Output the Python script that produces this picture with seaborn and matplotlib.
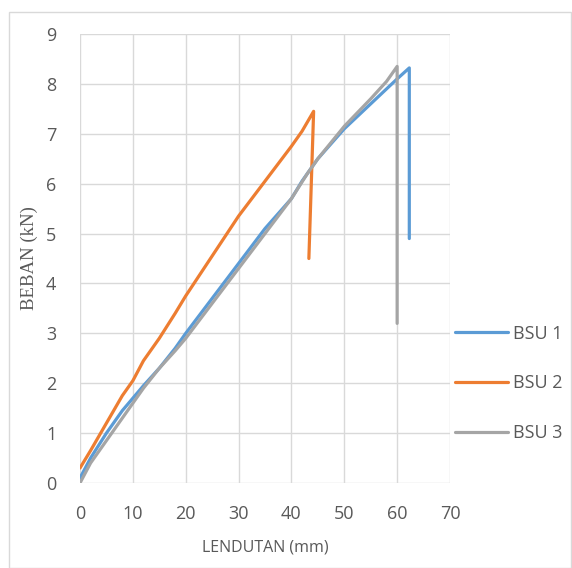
import matplotlib
matplotlib.use("Agg")
import matplotlib.pyplot as plt
import seaborn as sns
import pandas as pd
from matplotlib.patches import Rectangle

bsu1_x = [0, 2, 5, 8, 10, 12, 15, 18, 20, 25, 30, 35, 40, 42, 45, 50, 55, 58, 60, 62.3, 62.3]
bsu1_y = [0.1, 0.5, 1.0, 1.45, 1.7, 1.95, 2.3, 2.7, 3.0, 3.7, 4.4, 5.1, 5.7, 6.05, 6.5, 7.1, 7.6, 7.9, 8.1, 8.32, 4.9]

bsu2_x = [0, 2, 5, 8, 10, 12, 15, 18, 20, 25, 30, 35, 40, 42, 44.2, 43.3]
bsu2_y = [0.3, 0.65, 1.2, 1.75, 2.05, 2.45, 2.9, 3.4, 3.75, 4.55, 5.35, 6.05, 6.75, 7.05, 7.45, 4.5]

bsu3_x = [0, 2, 5, 8, 10, 12, 15, 18, 20, 25, 30, 35, 40, 43, 45, 50, 55, 58, 60, 60]
bsu3_y = [0.0, 0.4, 0.85, 1.3, 1.6, 1.9, 2.3, 2.65, 2.9, 3.6, 4.3, 5.0, 5.7, 6.2, 6.5, 7.15, 7.7, 8.05, 8.35, 3.2]

series = ["BSU 1", "BSU 2", "BSU 3"]
colors = ["#5b9bd5", "#ed7d31", "#a5a5a5"]

rows = []
for name, xs, ys in zip(series, [bsu1_x, bsu2_x, bsu3_x], [bsu1_y, bsu2_y, bsu3_y]):
    for i, (x, y) in enumerate(zip(xs, ys)):
        rows.append({"series": name, "order": i, "x": x, "y": y})
df = pd.DataFrame(rows)

sns.set_style("white")
plt.rcParams["font.family"] = ["Open Sans", "DejaVu Sans"]

fig = plt.figure(figsize=(5.72, 5.68), dpi=100)
ax = fig.add_axes([80/572, 1-483/568, 370/572, 449/568])

sns.lineplot(data=df, x="x", y="y", hue="series", units="series", estimator=None,
             sort=False, palette=colors, linewidth=2.3, ax=ax)

ax.set_xlim(0, 70)
ax.set_ylim(0, 9)
ax.set_xticks(range(0, 71, 10))
ax.set_yticks(range(0, 10))
ax.grid(True, color="#d9d9d9", linewidth=1.0)
for s in ax.spines.values():
    s.set_visible(False)
ax.tick_params(axis="x", length=0, labelsize=13, labelcolor="#595959", pad=16)
ax.tick_params(axis="y", length=0, labelsize=13, labelcolor="#595959", pad=17)
ax.set_xlabel("LENDUTAN (mm)", fontsize=11.5, color="#595959", labelpad=12)
ax.set_ylabel("BEBAN (kN)", fontsize=13.5, color="#595959", family="Liberation Serif", labelpad=6)

leg = ax.legend(loc="center left", bbox_to_anchor=(0.995, 0.222), frameon=False, fontsize=13,
                handlelength=2.9, labelspacing=1.75, handletextpad=0.3, borderaxespad=0.0)
for t in leg.get_texts():
    t.set_color("#595959")
for l in leg.get_lines():
    l.set_linewidth(2.3)

fig.patches.append(Rectangle((9/572, 0), 562/572, 1-12/568, transform=fig.transFigure,
                             fill=False, edgecolor="#d9d9d9", linewidth=1.0))

fig.savefig("out.png", dpi=100)
